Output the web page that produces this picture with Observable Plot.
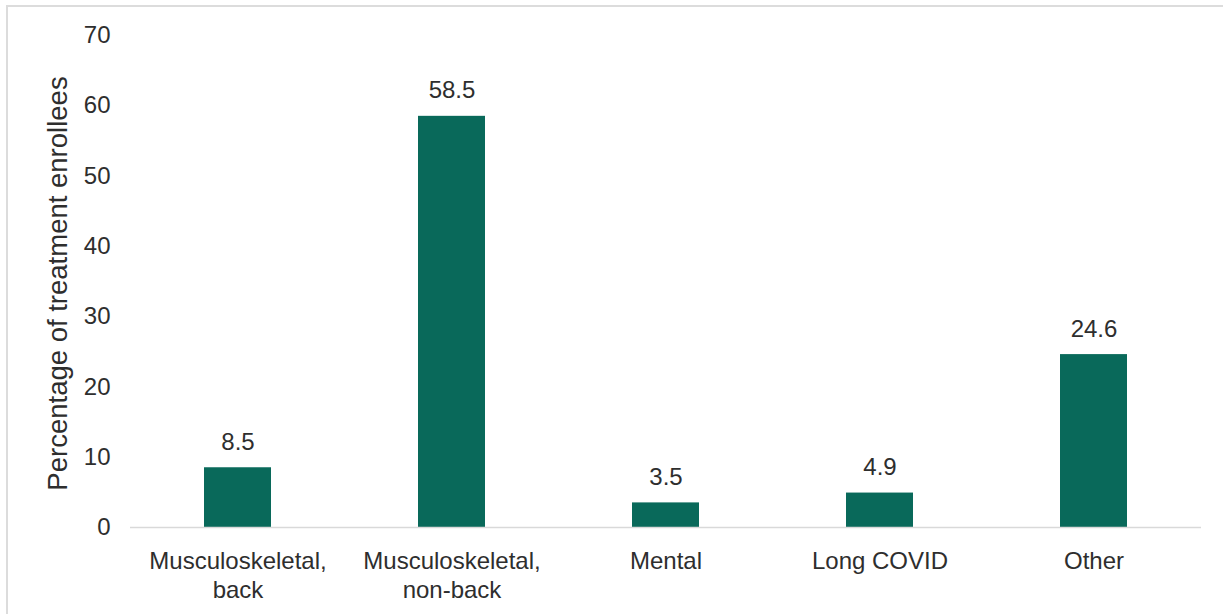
<!DOCTYPE html>
<html>
<head>
<meta charset="utf-8">
<script src="https://cdn.jsdelivr.net/npm/d3@7"></script>
<script src="https://cdn.jsdelivr.net/npm/@observablehq/plot@0.6"></script>
<style>
  html, body { margin: 0; padding: 0; background: #fff; }
  #frame { position: absolute; left: 6px; top: 5px; width: 1240px; height: 640px; border: 2px solid #dcdcdc; pointer-events: none; }
  #chart { position: absolute; left: 0; top: 0; }
</style>
</head>
<body>
<div id="chart"></div>
<div id="frame"></div>
<script>
const categories = ["Musculoskeletal, back", "Musculoskeletal, non-back", "Mental", "Long COVID", "Other"];
const tickLabels = ["Musculoskeletal,\nback", "Musculoskeletal,\nnon-back", "Mental", "Long COVID", "Other"];
const values = [8.5, 58.5, 3.5, 4.9, 24.6];
const yTicks = [0, 10, 20, 30, 40, 50, 60, 70];
const yLabel = "Percentage of treatment enrollees";

const data = categories.map((c, i) => ({category: c, value: values[i]}));
const labelOf = new Map(categories.map((c, i) => [c, tickLabels[i]]));

const textColor = "#2e2e2e";
const barColor = "#09695a";
const fs = 24;

const chart = Plot.plot({
  width: 1223,
  height: 614,
  marginLeft: 130,
  marginRight: 22,
  marginTop: 35,
  marginBottom: 87,
  style: {fontFamily: "'Liberation Sans', Arial, sans-serif", fontSize: fs + "px", color: textColor, background: "transparent"},
  x: {domain: categories, paddingInner: 0.687, paddingOuter: 0.3435, label: null},
  y: {domain: [0, 70], label: null},
  marks: [
    Plot.barY(data, {x: "category", y: "value", fill: barColor}),
    Plot.ruleY([0], {stroke: "#d9d9d9", strokeWidth: 1.5}),
    Plot.axisY({ticks: yTicks, tickSize: 0, tickPadding: 20, label: null, fontSize: fs, fill: textColor}),
    Plot.axisX({tickSize: 0, tickPadding: 22, label: null, tickFormat: d => labelOf.get(d), lineHeight: 1.17, fontSize: fs, fill: textColor}),
    Plot.text(data, {x: "category", y: "value", text: d => d.value.toFixed(1), lineAnchor: "bottom", dy: -18, fontSize: fs, fill: textColor}),
    Plot.text([yLabel], {frameAnchor: "left", textAnchor: "middle", rotate: -90, dx: -72, dy: 2, fontSize: 27.5, fill: textColor})
  ]
});
document.getElementById("chart").appendChild(chart);
</script>
</body>
</html>
